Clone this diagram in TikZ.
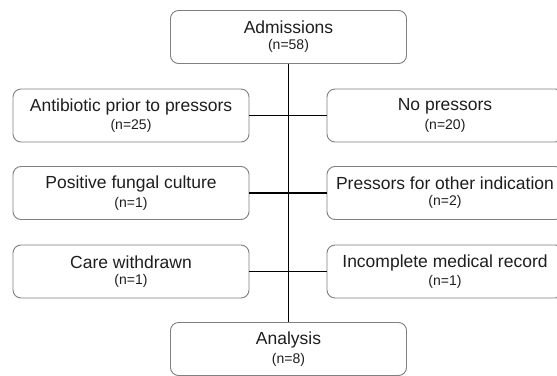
\documentclass[tikz,border=0pt]{standalone}
\usepackage{fontspec}
\setmainfont{Liberation Sans}
\definecolor{boxline}{HTML}{808080}
\definecolor{txt}{HTML}{1E1E1E}
\tikzset{
  stagebox/.style={draw=boxline, line width=0.9pt, rounded corners=8pt,
    minimum width=236pt, minimum height=53pt, inner sep=0pt,
    align=center, text=txt, fill=white},
  link/.style={draw=black, line width=1.4pt}
}
\newcommand{\boxtext}[2]{{\fontsize{17.5}{20}\selectfont #1}\\[4pt]{\fontsize{14}{17}\selectfont (n=#2)}}
\begin{document}
\begin{tikzpicture}[x=1pt,y=-1pt]
\useasboundingbox (0,0) rectangle (557,375);
\clip (0,0) rectangle (557,375);
\node[stagebox] (adm) at (288.5,37) {\boxtext{Admissions}{58}};
\node[stagebox] (l1) at (131,115.5) {\boxtext{Antibiotic prior to pressors}{25}};
\node[stagebox] (r1) at (445,115.5) {\boxtext{No pressors}{20}};
\node[stagebox] (l2) at (131,193) {\boxtext{Positive fungal culture}{1}};
\node[stagebox] (r2) at (445,193) {\boxtext{Pressors for other indication}{2}};
\node[stagebox] (l3) at (131,271.5) {\boxtext{Care withdrawn}{1}};
\node[stagebox] (r3) at (445,271.5) {\boxtext{Incomplete medical record}{1}};
\node[stagebox] (ana) at (288.5,349) {\boxtext{Analysis}{8}};
\draw[link] (adm.south) -- (ana.north);
\draw[link] (l1.east) -- (r1.west);
\draw[link] (l2.east) -- (r2.west);
\draw[link] (l3.east) -- (r3.west);
\end{tikzpicture}
\end{document}
